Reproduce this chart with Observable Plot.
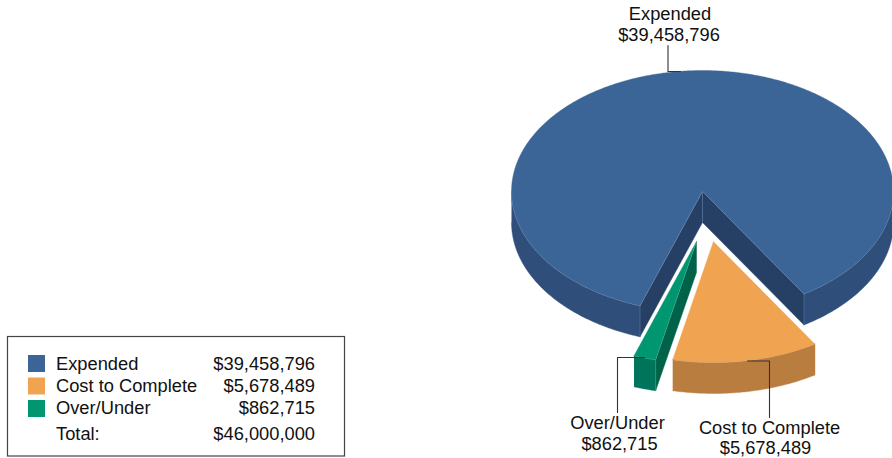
<!DOCTYPE html>
<html><head><meta charset="utf-8">
<script src="https://cdn.jsdelivr.net/npm/d3@7"></script>
<script src="https://cdn.jsdelivr.net/npm/@observablehq/plot@0.6"></script>
<style>html,body{margin:0;padding:0;background:#fff}svg{display:block}</style>
</head><body><div id="chart"></div>
<script>
const categories = ["Expended", "Cost to Complete", "Over/Under"];
const amounts = [39458796, 5678489, 862715];
const amountLabels = ["$39,458,796", "$5,678,489", "$862,715"];
const totalLabel = "Total:";
const totalAmount = "$46,000,000";
const topColors = ["#3b6596", "#f0a351", "#009670"];
const outerWallColors = ["#2f4f7a", "#ba7d40", "#00745a"];
const innerWallColors = ["#263f64", "#ba7d40", "#006349"];
const seamColors = ["#6685ad", "#d8a066", "#3fa88c"];

// pie geometry: angles run from straight down, through the right, the top and the left
const cx = 702, cy = 191, rx = 191, ry = 121, depth = 31;
const explode = [[0, 0], [11, 50], [-6, 50]];
const sweepOrder = [0, 2, 1];
const total = d3.sum(amounts);
const startAngle = 32.1 * Math.PI / 180;
const slices = [];
{
  let a = startAngle;
  for (const i of sweepOrder) {
    const sweep = amounts[i] / total * 2 * Math.PI;
    slices[i] = {i, a0: a, a1: a + sweep, dx: explode[i][0], dy: explode[i][1]};
    a += sweep;
  }
}
const px = (s, a, extra = 0) => [cx + s.dx + rx * Math.sin(a), cy + s.dy + ry * Math.cos(a) + extra];
const arcPts = (s, a0, a1, extra = 0) => {
  const n = Math.max(2, Math.ceil(Math.abs(a1 - a0) / 0.01));
  return d3.range(n + 1).map(k => px(s, a0 + (a1 - a0) * k / n, extra));
};
const apex = (s, extra = 0) => [cx + s.dx, cy + s.dy + extra];
const polys = [], seams = [];
const add = (pts, fill) => polys.push({pts, fill});
const seam = (pts, i) => seams.push({pts, stroke: seamColors[i]});
function wall(s, a0, a1) {
  add([...arcPts(s, a0, a1), ...arcPts(s, a1, a0, depth)], outerWallColors[s.i]);
}
function cutFace(s, a, i) {
  add([apex(s), apex(s, depth), px(s, a, depth), px(s, a)], innerWallColors[i]);
}
function drawSlice(s) {
  const {a0, a1, i} = s;
  if (i === 0) {
    cutFace(s, a0, 0);
    cutFace(s, a1, 0);
    wall(s, a0, Math.PI / 2);
    wall(s, 3 * Math.PI / 2, a1);
    seam([apex(s), apex(s, depth)], 0);
    seam([px(s, a0), px(s, a0, depth)], 0);
    seam([px(s, a1), px(s, a1, depth)], 0);
    seam([px(s, a0), apex(s), px(s, a1)], 0);
    seam(arcPts(s, a0, Math.PI / 2), 0);
    seam(arcPts(s, 3 * Math.PI / 2, a1), 0);
  } else if (i === 1) {
    wall(s, a0, a1);
    seam(arcPts(s, a0, a1), 1);
  } else {
    cutFace(s, a1, 2);
    wall(s, a0, a1);
    seam([px(s, a1), px(s, a1, depth)], 2);
    seam(arcPts(s, a0, a1), 2);
    seam([apex(s), px(s, a1)], 2);
  }
  add([apex(s), ...arcPts(s, a0, a1)], topColors[i]);
}
slices.forEach(drawSlice);
const rows = polys.flatMap((p, id) => p.pts.map(([x, y]) => ({x, y, id, fill: p.fill})));
const seamRows = seams.flatMap((p, id) => p.pts.map(([x, y]) => ({x, y, id, stroke: p.stroke})));

// legend & labels
const font = "'Liberation Sans', Arial, sans-serif";
const fs = 18.3;
const legendRows = categories.map((c, i) => ({c, amount: amountLabels[i], color: topColors[i], y: 364 + i * 22, sy: 363.5 + i * 22.5}));
const callouts = [
  {lines: [categories[0], amountLabels[0]], xs: [669.5, 668.5], y: 14},
  {lines: [categories[1], amountLabels[1]], xs: [769, 765], y: 427.5},
  {lines: [categories[2], amountLabels[2]], xs: [617, 619], y: 423}
];
const calloutText = callouts.flatMap(c => c.lines.map((t, k) => ({t, x: c.xs[k], y: c.y + k * 20.5})));
const leaders = [
  [[667.5, 45], [667.5, 71], [680, 71]],
  [[747, 360.5], [769, 360.5], [769, 417]],
  [[644, 357], [617, 357], [617, 412]]
].flatMap((l, id) => l.map(([x, y]) => ({x, y, id})));

const chart = Plot.plot({
  width: 892, height: 458, margin: 0,
  x: {domain: [0, 892], range: [0, 892], axis: null},
  y: {domain: [0, 458], range: [0, 458], axis: null},
  style: {background: "#fff", fontFamily: font},
  marks: [
    Plot.line(rows, {x: "x", y: "y", z: "id", fill: "fill", stroke: "fill", strokeWidth: 0.4, curve: "linear"}),
    Plot.line(seamRows, {x: "x", y: "y", z: "id", stroke: "stroke", strokeWidth: 0.7, strokeOpacity: 0.7, curve: "linear"}),
    Plot.line(leaders, {x: "x", y: "y", z: "id", stroke: "#333", strokeWidth: 1.1, curve: "linear"}),
    Plot.text(calloutText, {x: "x", y: "y", text: "t", fontSize: fs, fill: "#111", textAnchor: "middle"}),
    Plot.rect([{}], {x1: () => 7.5, x2: () => 344.5, y1: () => 336.5, y2: () => 456, fill: "none", stroke: "#444", strokeWidth: 1.2}),
    Plot.rect(legendRows, {x1: () => 28, x2: () => 45, y1: d => d.sy - 8.5, y2: d => d.sy + 8.5, fill: "color"}),
    Plot.text(legendRows, {x: () => 55.5, y: "y", text: "c", fontSize: fs, fill: "#111", textAnchor: "start"}),
    Plot.text(legendRows, {x: () => 314.5, y: "y", text: "amount", fontSize: fs, fill: "#111", textAnchor: "end"}),
    Plot.text([totalLabel], {x: () => 55.5, y: () => 434, text: d => d, fontSize: fs, fill: "#111", textAnchor: "start"}),
    Plot.text([totalAmount], {x: () => 314.5, y: () => 434, text: d => d, fontSize: fs, fill: "#111", textAnchor: "end"})
  ]
});
document.getElementById("chart").append(chart);
</script></body></html>
